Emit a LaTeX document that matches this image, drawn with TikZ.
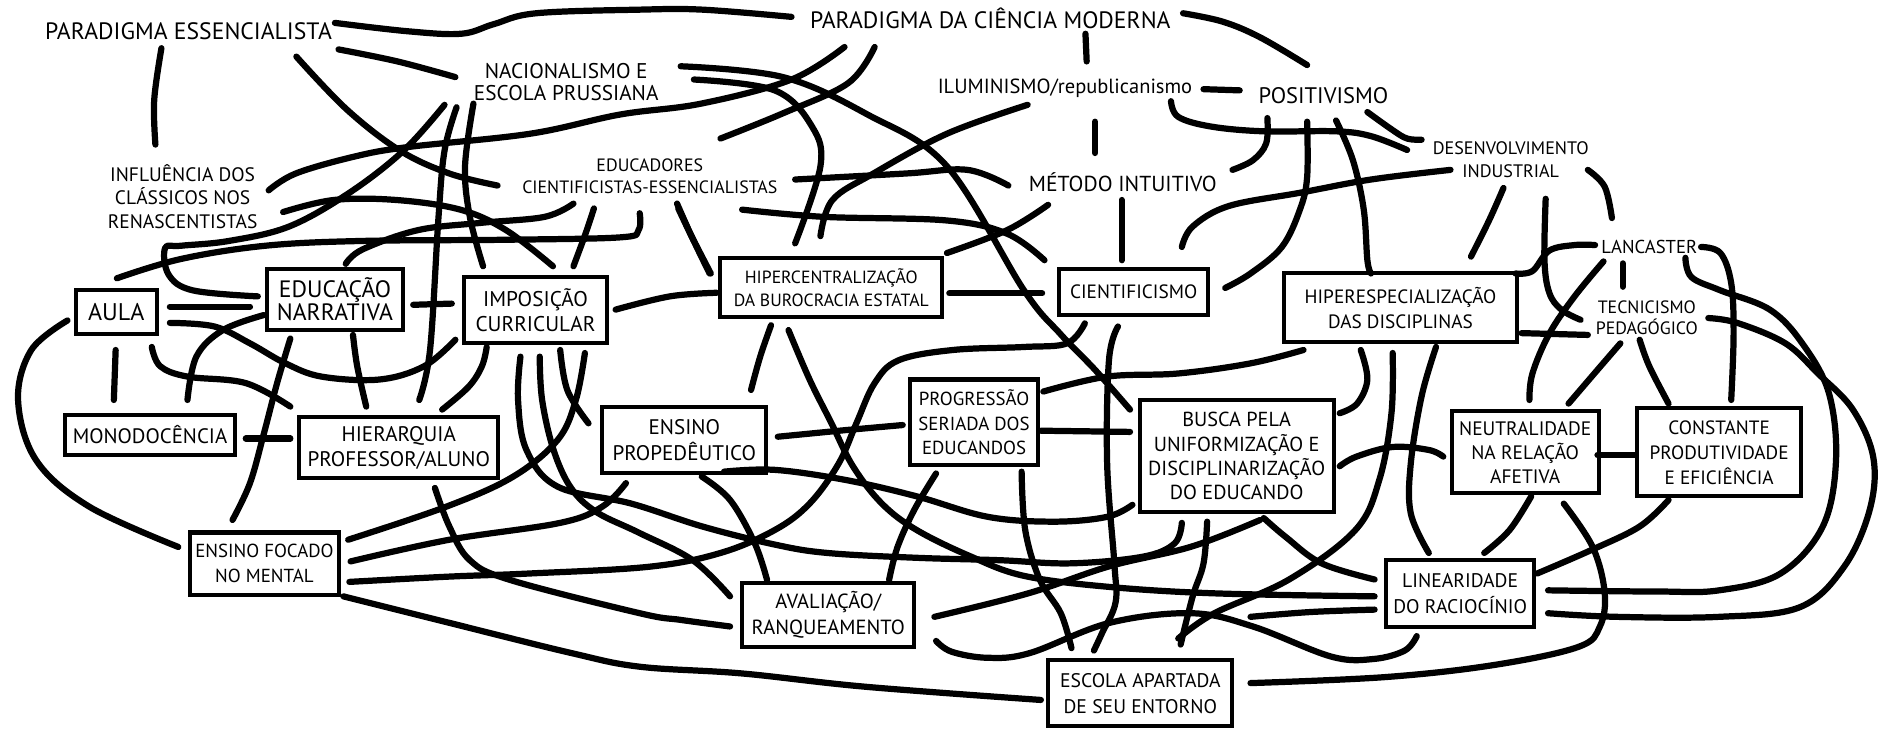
\documentclass[tikz,border=0pt]{standalone}
\usepackage{fontspec}
\setmainfont{PT Sans}
\newcommand\fz[2]{\fontsize{#1}{#2}\selectfont}
\begin{document}
\begin{tikzpicture}[x=0.6pt,y=-0.6pt,
  link/.style={line width=3.1pt,line cap=round,line join=round},
  lbl/.style={inner sep=0pt,align=center},
  bx/.style 2 args={draw,line width=2pt,inner sep=0pt,align=center,
    minimum width=#1*0.6pt,minimum height=#2*0.6pt},
  sm/.style={tension=0.6}]
\fill[white] (0,0) rectangle (1568,606);
\useasboundingbox (0,0) rectangle (1568,606);

% free labels
\node[lbl,font=\fz{11.8}{14}] (pe) at (156.5,25.5) {PARADIGMA ESSENCIALISTA};
\node[lbl,font=\fz{11.8}{14}] (pcm) at (822,15) {PARADIGMA DA CIÊNCIA MODERNA};
\node[lbl,font=\fz{10.6}{11}] (nac) at (470,68) {NACIONALISMO E\\ESCOLA PRUSSIANA};
\node[lbl,font=\fz{10.2}{12}] (ilu) at (884,73) {ILUMINISMO/republicanismo};
\node[lbl,font=\fz{11.2}{13}] (pos) at (1098.5,79) {POSITIVISMO};
\node[lbl,font=\fz{9}{11}] (des) at (1254,132.5) {DESENVOLVIMENTO\\INDUSTRIAL};
\node[lbl,font=\fz{10.8}{13}] (met) at (932,151) {MÉTODO INTUITIVO};
\node[lbl,font=\fz{9.7}{11.7}] (inf) at (151.6,163) {INFLUÊNCIA DOS\\CLÁSSICOS NOS\\RENASCENTISTAS};
\node[lbl,font=\fz{8.9}{11}] (edu) at (539.4,146.6) {EDUCADORES\\CIENTIFICISTAS-ESSENCIALISTAS};
\node[lbl,font=\fz{9.3}{11}] (lan) at (1369,205) {LANCASTER};
\node[lbl,font=\fz{8.9}{10.5}] (tec) at (1367,264) {TECNICISMO\\PEDAGÓGICO};

% boxed concepts
\node[bx={67}{37},font=\fz{12}{13}] (aula) at (96.5,259) {AULA};
\node[bx={113}{51},font=\fz{11.8}{11.5}] (narr) at (278,248.5) {EDUCAÇÃO\\NARRATIVA};
\node[bx={118}{55},font=\fz{10.6}{12.5}] (imp) at (444.5,257.5) {IMPOSIÇÃO\\CURRICULAR};
\node[bx={184}{49},font=\fz{8.8}{11.5}] (hcen) at (690,238.5) {HIPERCENTRALIZAÇÃO\\DA BUROCRACIA ESTATAL};
\node[bx={124}{38},font=\fz{9.6}{12}] (cien) at (941,242.5) {CIENTIFICISMO};
\node[bx={193}{57},font=\fz{9.6}{12.5}] (hesp) at (1162.5,255.5) {HIPERESPECIALIZAÇÃO\\DAS DISCIPLINAS};
\node[bx={141}{33},font=\fz{10.4}{12}] (mono) at (124.5,361) {MONODOCÊNCIA};
\node[bx={165}{51},font=\fz{10.5}{12.5}] (hier) at (331,371.5) {HIERARQUIA\\PROFESSOR/ALUNO};
\node[bx={136}{55},font=\fz{10.5}{13}] (prop) at (568,365) {ENSINO\\PROPEDÊUTICO};
\node[bx={107}{71},font=\fz{9.4}{12.4}] (prog) at (808.5,350.5) {PROGRESSÃO\\SERIADA DOS\\EDUCANDOS};
\node[bx={161}{93},font=\fz{10.1}{12}] (busc) at (1026.5,378.5) {BUSCA PELA\\UNIFORMIZAÇÃO E\\DISCIPLINARIZAÇÃO\\DO EDUCANDO};
\node[bx={122}{68},font=\fz{9.7}{12}] (neut) at (1266,375.5) {NEUTRALIDADE\\NA RELAÇÃO\\AFETIVA};
\node[bx={136}{73},font=\fz{9.6}{12.4}] (cons) at (1427,375.5) {CONSTANTE\\PRODUTIVIDADE\\E EFICIÊNCIA};
\node[bx={124}{52},font=\fz{9.4}{12.5}] (foc) at (219.5,468) {ENSINO FOCADO\\NO MENTAL};
\node[bx={143}{53},font=\fz{10.2}{13}] (aval) at (687.5,510.5) {AVALIAÇÃO/\\RANQUEAMENTO};
\node[bx={123}{56},font=\fz{9.8}{13}] (lin) at (1212,492.5) {LINEARIDADE\\DO RACIOCÍNIO};
\node[bx={153}{55},font=\fz{9.8}{13}] (esc) at (946.5,575.5) {ESCOLA APARTADA\\DE SEU ENTORNO};

% ---- connectors: upper band
\draw[link] plot[smooth,sm] coordinates {(278,19) (339,26) (383,28) (410,20) (445,11) (531,8) (583,8) (657,14)};
\draw[link] plot[smooth,sm] coordinates {(281,41) (330,51) (378,64)};
\draw[link] plot[smooth,sm] coordinates {(134,40) (128,83) (129,120)};
\draw[link] plot[smooth,sm] coordinates {(246,47) (288,91) (332,125) (373,144) (413,154)};
\draw[link] plot[smooth,sm] coordinates {(982,11) (1015,18) (1046,31) (1085,54)};
\draw[link] (901,28) -- (902,51);
\draw[link] (909,101) -- (909,127);
\draw[link] (931,166) -- (931,216);
\draw[link] (999,74) -- (1029,75);
\draw[link] plot[smooth,sm] coordinates {(972,84) (978,97) (1005,105) (1049,109) (1109,109) (1138,113) (1168,124.5)};
\draw[link] plot[smooth,sm] coordinates {(1135,93) (1156,108) (1168,115) (1180,116)};
\draw[link] plot[smooth,sm] coordinates {(1052,98) (1051,119) (1040,133) (1023,141)};
\draw[link] plot[smooth,sm] coordinates {(1085,101) (1085,147) (1079,174) (1064,205) (1038,227) (1017,239)};
\draw[link] plot[smooth,sm] coordinates {(1109,100) (1123,133) (1132,174) (1135,216) (1138,227)};
\draw[link] plot[smooth,sm] coordinates {(1204,141) (1138,149) (1079,160) (1020,171) (990,188) (981,205)};
\draw[link] plot[smooth,sm] coordinates {(1248,156) (1236,183) (1221,213)};
\draw[link] plot[smooth,sm] coordinates {(1283,165) (1282,216) (1286,243) (1296,257) (1312,265.5)};
\draw[link] plot[smooth,sm] coordinates {(1318,141) (1332,155) (1338,181)};
\draw[link] plot[smooth,sm] coordinates {(1258,227) (1272,225) (1286,208) (1307,203.4) (1324,203.4)};
\draw[link] (1347,218.6) -- (1347,238);
\draw[link] plot[smooth,sm] coordinates {(1331,217) (1307,246) (1286,277) (1272,310) (1269.5,332)};
\draw[link] (1263,276.5) -- (1318,278);
\draw[link] plot[smooth,sm] coordinates {(1345,285) (1326,307) (1302,335)};
\draw[link] plot[smooth,sm] coordinates {(1361,282) (1369,304) (1385,335)};
\draw[link] plot[smooth,sm] coordinates {(1412,205) (1428,210) (1437,235) (1439,277) (1437,332)};
\draw[link] plot[smooth,sm] coordinates {(1399,214) (1404,230) (1428,241) (1469,257) (1496,285) (1518,326) (1524,382) (1513,437) (1478,476) (1427,490) (1376,491) (1285,490)};
\draw[link] plot[smooth,sm] coordinates {(1418,264) (1442,268) (1482,285) (1509,310) (1538,340) (1555,380) (1552,423) (1531,470) (1494,504) (1427,512) (1342,512) (1285,509)};
\draw[link] (1326,377.7) -- (1357,377.7);
\draw[link] plot[smooth,sm] coordinates {(1271,412) (1253,440) (1232,459)};
\draw[link] plot[smooth,sm] coordinates {(1298,418) (1322,454) (1332,492) (1328,520) (1310,537) (1240,552) (1150,562) (1038,567)};
\draw[link] plot[smooth,sm] coordinates {(1385,415) (1361,437) (1321,456.5) (1276,476)};
\draw[link] plot[smooth,sm] coordinates {(1112,387) (1126,379) (1156,371) (1186,373.5) (1198,379)};
\draw[link] plot[smooth,sm] coordinates {(1192,288) (1180,329) (1171,385) (1171,426) (1186,459)};
\draw[link] plot[smooth,sm] coordinates {(1129.5,290.5) (1135,315) (1126.5,335) (1112,343)};
\draw[link] plot[smooth,sm] coordinates {(1156,293) (1155,343) (1145,398) (1125,440) (1070,481) (1008,509) (978,530)};
\draw[link] plot[smooth,sm] coordinates {(866,325) (919,312.6) (978,310) (1038,301.6) (1082,290.5)};
\draw[link] (864,357.5) -- (938,358.5);
\draw[link] plot[smooth,sm] coordinates {(565,55) (650,64) (720,95) (786,138) (850,241) (880,277) (909,307) (938,340)};
\draw[link] plot[smooth,sm] coordinates {(853,87) (786,111) (725,144) (691,166) (681,196)};
\draw[link] plot[smooth,sm] coordinates {(576,66) (643,75) (674,105) (681,138) (660,202)};
\draw[link] plot[smooth,sm] coordinates {(660,149) (752,144) (803,141) (837,154)};
\draw[link] plot[smooth,sm] coordinates {(616,174) (684,180) (786,183) (836,194) (867,216)};
\draw[link] plot[smooth,sm] coordinates {(870,170) (836,191) (786,210)};
\draw[link] plot[smooth,sm] coordinates {(562,169) (574,196) (589,227)};
\draw[link] plot[smooth,sm] coordinates {(598,115) (650,94) (704,69) (726,39)};
\draw[link] plot[smooth,sm] coordinates {(223,158) (245.5,144) (294,130) (339,122) (440,111) (515,95) (582,86) (657,66) (701,39)};
\draw[link] plot[smooth,sm] coordinates {(235,176) (277,166) (329,166) (382,174) (420,191) (459,221)};
\draw[link] plot[smooth,sm] coordinates {(476,169) (452,180) (399,185) (347,191) (301,207) (287,219)};
\draw[link] plot[smooth,sm] coordinates {(493,173) (486,194) (476,221)};
\draw[link] plot[smooth,sm] coordinates {(563,173) (574,196) (590,227)};
\draw[link] plot[smooth,sm] coordinates {(531,177) (530,191) (515,197) (420,199) (300,200) (220,204) (150,215) (97,231)};
\draw[link] plot[smooth,sm] coordinates {(369,87) (335,125) (290,160) (240,188) (190,200) (150,204) (137,206) (140,228) (160,241) (214,246)};
\draw[link] plot[smooth,sm] coordinates {(393,86) (386,138) (390,180) (401,221)};
\draw[link] plot[smooth,sm] coordinates {(379,89) (369,125) (364,180) (357,290) (348,332)};
\draw[link] (788,243.5) -- (865,243.5);
\draw[link] plot[smooth,sm] coordinates {(511,257) (556,246) (595,243)};
\draw[link] (343,253) -- (375,252);
% ---- connectors: left band
\draw[link] (141,254.5) -- (207.5,254.5);
\draw[link] plot[smooth,sm] coordinates {(141,268) (178,271) (207.5,285) (237,301.6) (267,312.6) (315,315) (352,304) (378,282)};
\draw[link] plot[smooth,sm] coordinates {(219,261.5) (185,274) (163,296) (155.6,332)};
\draw[link] plot[smooth,sm] coordinates {(126,288) (133,304) (155.6,312.6) (204,318) (241,337.5)};
\draw[link] (96,290.5) -- (94.5,332);
\draw[link] plot[smooth,sm] coordinates {(241,281) (230,318) (219,360) (207.5,401) (193,431.6)};
\draw[link] plot[smooth,sm] coordinates {(293,278) (296.5,304) (304,337.5)};
\draw[link] plot[smooth,sm] coordinates {(404,288) (400,304) (389,321) (367,340)};
\draw[link] (204,364) -- (241,364);
\draw[link] plot[smooth,sm] coordinates {(56,266) (26,290.5) (15,332) (30,382) (74,420.5) (148,454)};
\draw[link] plot[smooth,sm] coordinates {(485.5,293) (478,332) (463,365) (426,395.6) (370.6,420.5) (289,448)};
\draw[link] plot[smooth,sm] coordinates {(291,466) (373,448) (465,434) (500,420.5) (519.6,401)};
\draw[link] plot[smooth,sm] coordinates {(900.5,268.4) (885.7,285) (850,288) (791,290.5) (746,299) (726,318) (711,351) (696,385) (672,418) (643,440) (598,459) (539,470.4) (440,476) (373,478.6) (290,483)};
\draw[link] plot[smooth,sm] coordinates {(285,495) (373,517) (474,542) (531,553.4) (616,559) (718,570) (864,581)};
\draw[link] plot[smooth,sm] coordinates {(361,405) (373,437) (390,465) (423.5,481.4) (531,509) (565.5,514.6) (606,520)};
% ---- connectors: middle band
\draw[link] plot[smooth,sm] coordinates {(432,296) (430,332) (437,373.5) (463,404) (524,418) (583,437) (643,452) (687,459) (761,463) (830,465) (889,467.6) (949,462) (975,451) (981,434)};
\draw[link] plot[smooth,sm] coordinates {(448,296) (450,332) (459.5,373.5) (474,405) (495,425) (530,442) (575,465) (606,495)};
\draw[link] plot[smooth,sm] coordinates {(465,290.5) (471,324) (488.5,351.4)};
\draw[link] plot[smooth,sm] coordinates {(640,270) (631,296) (623.4,323.7)};
\draw[link] plot[smooth,sm] coordinates {(654.5,274) (672,315) (690,351) (708,387) (732,418) (761,440) (806,462) (850,478) (919,487) (1008,492.5) (1141,495)};
\draw[link] (645.6,362.5) -- (701.9,357) -- (749.3,352.8);
\draw[link] plot[smooth,sm] coordinates {(940,419) (919,429) (875,433) (820,429) (761,412) (702,398.4) (643,390) (601,391.5)};
\draw[link] plot[smooth,sm] coordinates {(582.5,395.6) (606,415) (626.5,451) (636.7,481.4)};
\draw[link] plot[smooth,sm] coordinates {(777,393) (759,423) (745,454) (738,481.4)};
\draw[link] plot[smooth,sm] coordinates {(848,391.5) (851,440) (863,481) (880.5,509) (889.4,538)};
\draw[link] plot[smooth,sm] coordinates {(928,271) (920.5,299) (919,385) (925,468) (926,500) (915,525) (908,540)};
\draw[link] plot[smooth,sm] coordinates {(1002,433) (999,467.6) (990,495) (980,535)};
\draw[link] plot[smooth,sm] coordinates {(1049,430) (1067,445.5) (1097,467.6) (1141,481)};
\draw[link] plot[smooth,sm] coordinates {(775.6,512) (853.5,492.5) (921,470) (989,453.7) (1046,431.6)};
\draw[link] plot[smooth,sm] coordinates {(777,532) (790,541) (820,546) (855,542) (921,517) (989,509) (1040,520) (1105,545) (1140,547) (1166,540) (1176,528)};
\draw[link] plot[smooth,sm] coordinates {(1038,512) (1088,508) (1141,506)};
\end{tikzpicture}
\end{document}
